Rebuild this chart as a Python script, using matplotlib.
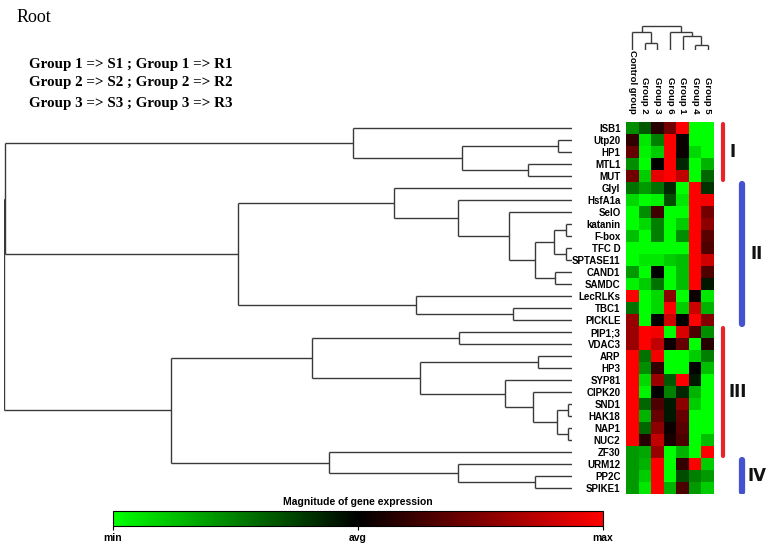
import numpy as np
import matplotlib
matplotlib.use("Agg")
import matplotlib.pyplot as plt
from matplotlib.colors import LinearSegmentedColormap, Normalize
from matplotlib.cm import ScalarMappable

# ---------------- data ----------------
gene_names = ["ISB1", "Utp20", "HP1", "MTL1", "MUT", "Glyl", "HsfA1a", "SelO",
              "katanin", "F-box", "TFC D", "SPTASE11", "CAND1", "SAMDC", "LecRLKs",
              "TBC1", "PICKLE", "PIP1;3", "VDAC3", "ARP", "HP3", "SYP81", "CIPK20",
              "SND1", "HAK18", "NAP1", "NUC2", "ZF30", "URM12", "PP2C", "SPIKE1"]
sample_names = ["Control group", "Group 2", "Group 3", "Group 6",
                "Group 1", "Group 4", "Group 5"]

expr_values = [
    [-0.55, -0.35, 0.15, 0.45, 1.00, -1.00, -1.00],   # ISB1
    [0.20, -0.90, -0.50, 1.00, 0.05, -1.00, -1.00],   # Utp20
    [0.40, -0.95, -0.80, 1.00, 0.05, -0.85, -1.00],   # HP1
    [-0.55, -1.00, 0.00, 1.00, -0.15, -1.00, -0.70],  # MTL1
    [0.45, -0.80, 0.90, 1.00, 0.75, -1.00, -0.40],    # MUT
    [-0.45, -0.60, -0.45, -0.15, -1.00, 1.00, -0.20], # Glyl
    [-0.85, -1.00, -0.95, -0.30, -0.90, 1.00, 0.95],  # HsfA1a
    [-1.00, -0.55, 0.25, -1.00, -1.00, 1.00, 0.45],   # SelO
    [-1.00, -0.85, -0.50, -1.00, -0.80, 1.00, 0.55],  # katanin
    [-0.75, -1.00, -0.50, -1.00, -0.55, 1.00, 0.35],  # F-box
    [-1.00, -1.00, -1.00, -1.00, -1.00, 1.00, 0.30],  # TFC D
    [-1.00, -0.90, -0.90, -0.80, -0.75, 1.00, 0.80],  # SPTASE11
    [-0.60, -1.00, 0.00, -1.00, -0.75, 1.00, 0.30],   # CAND1
    [-0.95, -0.80, -0.45, -1.00, -0.75, 1.00, -0.10], # SAMDC
    [1.00, -1.00, -0.85, 0.55, -1.00, 0.05, -0.90],   # LecRLKs
    [-0.45, -1.00, -0.85, 1.00, -0.80, 0.80, -0.70],  # TBC1
    [0.60, -1.00, 0.00, 0.80, 0.00, 1.00, 0.50],      # PICKLE
    [0.60, 1.00, 0.95, -1.00, 0.85, 0.30, -0.55],     # PIP1;3
    [0.60, 1.00, 0.75, 0.05, 0.40, -1.00, 0.15],      # VDAC3
    [1.00, -0.45, 0.95, -1.00, -1.00, -0.80, -0.50],  # ARP
    [1.00, -0.55, 0.20, -1.00, -1.00, 0.00, -0.75],   # HP3
    [1.00, -0.85, 0.60, -0.35, 1.00, -0.10, -1.00],   # SYP81
    [1.00, -0.95, 0.00, -0.50, -0.15, -0.70, -1.00],  # CIPK20
    [1.00, -0.40, 0.30, -0.10, 0.55, -0.80, -1.00],   # SND1
    [1.00, -0.70, 0.40, -0.10, 0.40, -1.00, -1.00],   # HAK18
    [1.00, -0.40, 0.55, 0.05, 0.35, -1.00, -1.00],    # NAP1
    [1.00, 0.15, 0.75, 0.10, 0.30, -1.00, -0.75],     # NUC2
    [-0.60, -0.65, 0.60, -1.00, -0.70, -1.00, 1.00],  # ZF30
    [-0.60, -0.70, 1.00, -1.00, 0.20, 1.00, -0.80],   # URM12
    [-0.60, -0.80, 1.00, -1.00, -0.30, -0.50, -0.60], # PP2C
    [-0.60, -0.90, 1.00, -0.70, 0.30, -0.60, -0.80],  # SPIKE1
]

# row dendrogram: (child_a, child_b, height); leaves 0..30, new nodes from 31
row_links = [
    (1, 2, 0.025), (3, 4, 0.077), (31, 32, 0.194), (0, 33, 0.386),
    (8, 9, 0.011), (10, 11, 0.011), (35, 36, 0.032), (12, 13, 0.030),
    (37, 38, 0.065), (7, 39, 0.111), (6, 40, 0.201), (5, 41, 0.313),
    (15, 16, 0.104), (14, 43, 0.275), (42, 44, 0.588),
    (17, 18, 0.199), (19, 20, 0.060), (23, 24, 0.007), (25, 26, 0.007),
    (48, 49, 0.026), (22, 50, 0.069), (21, 51, 0.118), (47, 52, 0.268),
    (46, 53, 0.458), (29, 30, 0.065), (28, 55, 0.201), (27, 56, 0.428),
    (54, 57, 0.706), (34, 45, 0.998), (59, 58, 1.000),
]

# column dendrogram: leaves 0..6, new nodes from 7
col_links = [
    (1, 2, 0.28), (0, 7, 0.68), (5, 6, 0.20), (4, 9, 0.52),
    (3, 10, 0.70), (8, 11, 0.92),
]

cluster_names = ["I", "II", "III", "IV"]
cluster_first_row = [0, 5, 17, 28]
cluster_last_row = [4, 16, 27, 30]
cluster_colors = ["#e8232b", "#4452d0", "#e8232b", "#4452d0"]

legend_lines = ["Group 1 => S1 ; Group 1 => R1",
                "Group 2 => S2 ; Group 2 => R2",
                "Group 3 => S3 ; Group 3 => R3"]

# ---------------- figure ----------------
W, H = 768, 545
fig = plt.figure(figsize=(W / 100, H / 100), dpi=100)
fig.patch.set_facecolor("white")


def px_axes(x0, y0, x1, y1):
    """axes placed by pixel box (top-left origin)"""
    return fig.add_axes([x0 / W, 1 - y1 / H, (x1 - x0) / W, (y1 - y0) / H])


lab_font = ["Liberation Sans", "DejaVu Sans"]
cmap = LinearSegmentedColormap.from_list("gbr", ["#00ff00", "#000000", "#ff0000"])
norm = Normalize(-1, 1)

n_rows = len(gene_names)
n_cols = len(sample_names)
HM_X0, HM_X1, HM_Y0, HM_Y1 = 626, 714, 122, 494

# heatmap
ax_hm = px_axes(HM_X0, HM_Y0, HM_X1, HM_Y1)
ax_hm.imshow(np.array(expr_values), cmap=cmap, norm=norm, aspect="auto",
             interpolation="nearest")
ax_hm.set_yticks(range(n_rows))
ax_hm.set_yticklabels(gene_names, fontsize=7, fontweight="bold", family=lab_font)
ax_hm.set_xticks(range(n_cols))
ax_hm.set_xticklabels(sample_names, fontsize=6.8, fontweight="bold", family=lab_font,
                      rotation=-90, ha="right", va="center", rotation_mode="anchor")
ax_hm.xaxis.tick_top()
ax_hm.tick_params(axis="y", length=0, pad=4)
ax_hm.tick_params(axis="x", length=0, pad=6)
for s in ax_hm.spines.values():
    s.set_visible(False)


def dendro_segments(links, n_leaves):
    pos = {i: float(i) for i in range(n_leaves)}
    hgt = {i: 0.0 for i in range(n_leaves)}
    segs = []
    for k, (a, b, h) in enumerate(links):
        node = n_leaves + k
        segs.append(((hgt[a], pos[a]), (h, pos[a])))
        segs.append(((hgt[b], pos[b]), (h, pos[b])))
        segs.append(((h, pos[a]), (h, pos[b])))
        pos[node] = (pos[a] + pos[b]) / 2
        hgt[node] = h
    return segs


line_color = "#3a3a3a"

# row dendrogram
ax_rd = px_axes(4, HM_Y0, 572, HM_Y1)
for (h0, p0), (h1, p1) in dendro_segments(row_links, n_rows):
    ax_rd.plot([h0, h1], [p0, p1], color=line_color, lw=1.0, solid_capstyle="butt")
ax_rd.set_xlim(1.0, 0.0)
ax_rd.set_ylim(n_rows - 0.5, -0.5)
ax_rd.axis("off")

# column dendrogram
ax_cd = px_axes(HM_X0, 24, HM_X1, 50)
for (h0, p0), (h1, p1) in dendro_segments(col_links, n_cols):
    ax_cd.plot([p0, p1], [h0, h1], color=line_color, lw=1.0, solid_capstyle="butt")
ax_cd.set_xlim(-0.5, n_cols - 0.5)
ax_cd.set_ylim(0, 1.0)
ax_cd.axis("off")

# cluster bars
ax_cl = px_axes(714, HM_Y0, 768, HM_Y1)
ax_cl.set_xlim(0, 54)
ax_cl.set_ylim(n_rows - 0.5, -0.5)
ax_cl.axis("off")
bar_x = [9, 28, 9, 28]
lab_x = [19, 43, 24, 43]
bar_w = [3.0, 4.5, 3.0, 4.5]
for name, r0, r1, c, bx, lx, bw in zip(cluster_names, cluster_first_row, cluster_last_row,
                                       cluster_colors, bar_x, lab_x, bar_w):
    ax_cl.plot([bx, bx], [r0 - 0.35, r1 + 0.35], color=c, lw=bw, solid_capstyle="round")
    ax_cl.text(lx, (r0 + r1) / 2, name, ha="center", va="center", fontsize=12,
               fontweight="bold", color="#111111", family="DejaVu Sans")

# colorbar
cax = px_axes(113, 511, 603, 526)
cb = fig.colorbar(ScalarMappable(norm=norm, cmap=cmap), cax=cax,
                  orientation="horizontal", ticks=[-1, 0, 1])
cb.set_ticklabels(["min", "avg", "max"])
cax.tick_params(labelsize=7.5, length=3, width=0.8, pad=2)
for lbl in cax.get_xticklabels():
    lbl.set_fontweight("bold")
    lbl.set_family(lab_font)
cb.outline.set_linewidth(0.8)
cax.set_title("Magnitude of gene expression", fontsize=7.5, fontweight="bold",
              family=lab_font, pad=4)

# texts top-left
fig.text(17 / W, 1 - 21.5 / H, "Root", fontsize=13, family="Liberation Serif",
         ha="left", va="baseline")
for line, yb in zip(legend_lines, [68, 86, 106.5]):
    fig.text(29 / W, 1 - yb / H, line, fontsize=10.8, fontweight="bold",
             family="Liberation Serif", ha="left", va="baseline")

fig.savefig("out.png", dpi=100, facecolor="white")
